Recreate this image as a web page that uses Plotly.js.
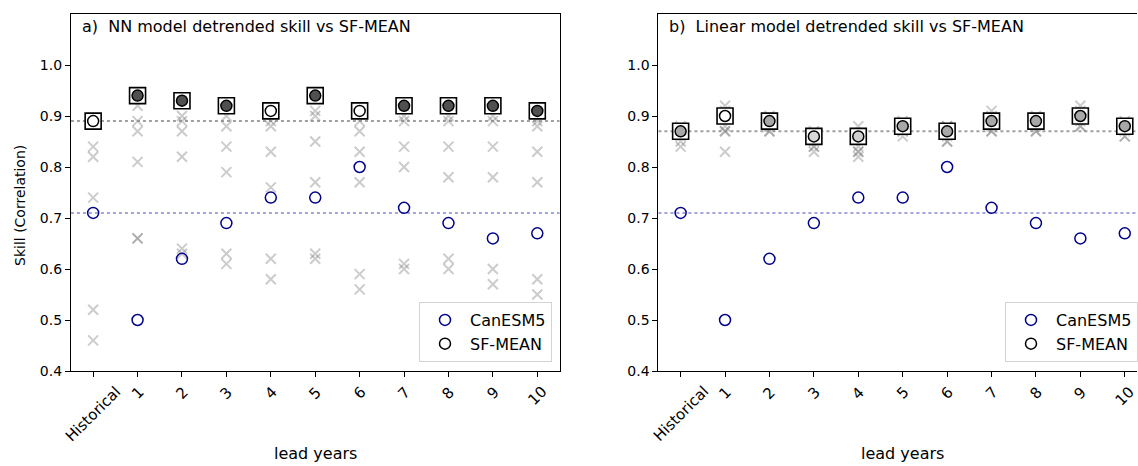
<!DOCTYPE html>
<html><head><meta charset="utf-8">
<script src="https://cdn.plot.ly/plotly-3.0.1.min.js"></script>
<style>html,body{margin:0;padding:0;background:#fff}#chart{width:1138px;height:466px}</style>
</head><body><div id="chart"></div>
<script>
// ---- data ----
const leads = ['Historical','1','2','3','4','5','6','7','8','9','10'];
const yTicks = [0.4,0.5,0.6,0.7,0.8,0.9,1.0];
const canesm5 = [0.71,0.50,0.62,0.69,0.74,0.74,0.80,0.72,0.69,0.66,0.67];
const sfMeanA = [0.89,0.94,0.93,0.92,0.91,0.94,0.91,0.92,0.92,0.92,0.91];
const sfMeanB = [0.87,0.90,0.89,0.86,0.86,0.88,0.87,0.89,0.89,0.90,0.88];
// NN model ensemble members (panel a), one list per lead
const nnMembers = [
  [0.89,0.84,0.82,0.74,0.52,0.46],
  [0.92,0.89,0.87,0.81,0.66,0.66],
  [0.90,0.87,0.82,0.64,0.63,0.89],
  [0.90,0.88,0.84,0.79,0.63,0.61],
  [0.89,0.88,0.83,0.76,0.62,0.58],
  [0.91,0.90,0.85,0.77,0.63,0.62],
  [0.89,0.87,0.83,0.77,0.59,0.56],
  [0.90,0.89,0.84,0.80,0.61,0.60],
  [0.90,0.89,0.84,0.78,0.62,0.60],
  [0.90,0.89,0.84,0.78,0.60,0.57],
  [0.89,0.88,0.83,0.77,0.58,0.55]
];
// Linear model ensemble members (panel b), one list per lead
const linMembers = [
  [0.88,0.87,0.86,0.85,0.84,0.87],
  [0.92,0.91,0.88,0.87,0.87,0.83],
  [0.90,0.89,0.88,0.88,0.87,0.87],
  [0.87,0.86,0.85,0.84,0.84,0.83],
  [0.88,0.86,0.84,0.83,0.83,0.82],
  [0.89,0.88,0.88,0.87,0.87,0.86],
  [0.88,0.88,0.87,0.86,0.85,0.85],
  [0.91,0.90,0.89,0.88,0.87,0.87],
  [0.90,0.89,0.89,0.88,0.87,0.87],
  [0.92,0.91,0.90,0.89,0.88,0.88],
  [0.89,0.88,0.88,0.87,0.86,0.86]
];
// fill shade of the SF-MEAN circle at each lead
const fillA = ['#ffffff','#505050','#505050','#505050','#ffffff','#505050','#ffffff','#505050','#505050','#505050','#505050'];
const fillB = ['#a8a8a8','#ffffff','#a8a8a8','#d8d8d8','#d0d0d0','#a8a8a8','#a8a8a8','#a8a8a8','#a8a8a8','#a8a8a8','#a8a8a8'];

// ---- styling ----
const FONT = 'DejaVu Sans, Liberation Sans, sans-serif';
const W = 1138, H = 466;
const plotTop = 14, plotBot = 371;
const aL = 71, aR = 560, bL = 659;
const spacing = (aR - aL) / 11;
const bRangeMax = (W - bL) / spacing - 0.5;

function flatten(members){
  const xs=[], ys=[];
  members.forEach((arr,i)=>arr.forEach(v=>{xs.push(leads[i]); ys.push(v);}));
  return {xs, ys};
}

function panelTraces(members, sf, fills, xa, ya, legendId){
  const f = flatten(members);
  return [
    {x:f.xs, y:f.ys, xaxis:xa, yaxis:ya, type:'scatter', mode:'markers', showlegend:false, hoverinfo:'skip',
     marker:{symbol:'x-thin-open', size:10, color:'rgba(128,128,128,0.4)', line:{width:2, color:'rgba(128,128,128,0.4)'}}},
    {x:leads, y:canesm5, xaxis:xa, yaxis:ya, type:'scatter', mode:'markers', name:'CanESM5', legend:legendId,
     marker:{symbol:'circle-open', size:11, color:'#00008b', line:{width:1.5, color:'#00008b'}}},
    {x:leads, y:sf, xaxis:xa, yaxis:ya, type:'scatter', mode:'markers', showlegend:false,
     marker:{symbol:'square', size:16, color:'#ffffff', line:{width:1.6, color:'#000'}}},
    {x:leads, y:sf, xaxis:xa, yaxis:ya, type:'scatter', mode:'markers', showlegend:false,
     marker:{symbol:'circle', size:11, color:fills, line:{width:1.5, color:'#000'}}},
    {x:[null], y:[null], xaxis:xa, yaxis:ya, type:'scatter', mode:'markers', name:'SF-MEAN', legend:legendId,
     marker:{symbol:'circle-open', size:11, color:'#000', line:{width:1.5, color:'#000'}}}
  ];
}

const data = [
  ...panelTraces(nnMembers, sfMeanA, fillA, 'x', 'y', 'legend'),
  ...panelTraces(linMembers, sfMeanB, fillB, 'x2', 'y2', 'legend2')
];

const py = v => (plotBot - v) / (plotBot - plotTop); // pixel -> paper y
const xAxisBase = {type:'category', showline:true, linecolor:'#000', linewidth:1, ticks:'outside', ticklen:5, tickwidth:1,
  tickcolor:'#000', showticklabels:false, showgrid:false, zeroline:false, automargin:false, fixedrange:true};
const yAxisBase = {range:[0.4,1.1], tickvals:yTicks, ticktext:yTicks.map(v=>v.toFixed(1)), showline:true, linecolor:'#000',
  linewidth:1, ticks:'outside', ticklen:5, tickwidth:1, tickcolor:'#000', tickfont:{family:FONT, size:14, color:'#000'},
  showgrid:false, zeroline:false, automargin:false, domain:[0,1]};

const legendBase = {bgcolor:'rgba(255,255,255,0.85)', bordercolor:'#d3d3d3', borderwidth:1,
  font:{family:FONT, size:16, color:'#000'}, xanchor:'left', yanchor:'bottom', tracegroupgap:0, itemwidth:40};

// rotated x tick labels, centred under each tick (matplotlib style)
const tickLabels = [];
['x','x2'].forEach(xr=>{
  leads.forEach(l=>tickLabels.push({text:l, xref:xr, yref:'paper', x:l, y:py(380), xanchor:'center', yanchor:'top',
    textangle:-45, showarrow:false, font:{family:FONT, size:15, color:'#000'}}));
});

const layout = {
  width:W, height:H, paper_bgcolor:'#fff', plot_bgcolor:'#fff',
  margin:{l:0, r:0, t:plotTop, b:H-plotBot, pad:0},
  font:{family:FONT, color:'#000'},
  showlegend:true,
  xaxis:Object.assign({}, xAxisBase, {domain:[aL/W, aR/W], range:[-0.5,10.5], anchor:'y', mirror:true}),
  yaxis:Object.assign({}, yAxisBase, {anchor:'x', mirror:true}),
  xaxis2:Object.assign({}, xAxisBase, {domain:[bL/W, 1], range:[-0.5,bRangeMax], anchor:'y2', mirror:true}),
  yaxis2:Object.assign({}, yAxisBase, {anchor:'x2', mirror:false}),
  legend:Object.assign({}, legendBase, {x:419/W, y:py(362)}),
  legend2:Object.assign({}, legendBase, {x:1006/W, y:py(362)}),
  shapes:[
    {type:'line', xref:'x domain', yref:'y', x0:0, x1:1, y0:sfMeanA[0], y1:sfMeanA[0], layer:'below', line:{color:'rgba(128,128,128,0.75)', width:2, dash:'dot'}},
    {type:'line', xref:'x domain', yref:'y', x0:0, x1:1, y0:canesm5[0], y1:canesm5[0], layer:'below', line:{color:'rgba(90,90,200,0.55)', width:2, dash:'dot'}},
    {type:'line', xref:'x2 domain', yref:'y2', x0:0, x1:1, y0:sfMeanB[0], y1:sfMeanB[0], layer:'below', line:{color:'rgba(128,128,128,0.75)', width:2, dash:'dot'}},
    {type:'line', xref:'x2 domain', yref:'y2', x0:0, x1:1, y0:canesm5[0], y1:canesm5[0], layer:'below', line:{color:'rgba(90,90,200,0.55)', width:2, dash:'dot'}}
  ],
  annotations:[
    {text:'a)  NN model detrended skill vs SF-MEAN', xref:'paper', yref:'paper', x:80/W, y:py(27), xanchor:'left', yanchor:'middle', showarrow:false, font:{family:FONT, size:16, color:'#000'}},
    {text:'b)  Linear model detrended skill vs SF-MEAN', xref:'paper', yref:'paper', x:668/W, y:py(27), xanchor:'left', yanchor:'middle', showarrow:false, font:{family:FONT, size:16, color:'#000'}},
    {text:'lead years', xref:'paper', yref:'paper', x:(aL+aR)/2/W, y:py(465), xanchor:'center', yanchor:'bottom', showarrow:false, font:{family:FONT, size:16, color:'#000'}},
    {text:'lead years', xref:'paper', yref:'paper', x:903/W, y:py(465), xanchor:'center', yanchor:'bottom', showarrow:false, font:{family:FONT, size:16, color:'#000'}},
    {text:'Skill (Correlation)', xref:'paper', yref:'paper', x:20/W, y:py(205), xanchor:'center', yanchor:'middle', textangle:-90, showarrow:false, font:{family:FONT, size:14, color:'#000'}},
    ...tickLabels
  ]
};

Plotly.newPlot('chart', data, layout, {staticPlot:true, displayModeBar:false});
</script>
</body></html>
